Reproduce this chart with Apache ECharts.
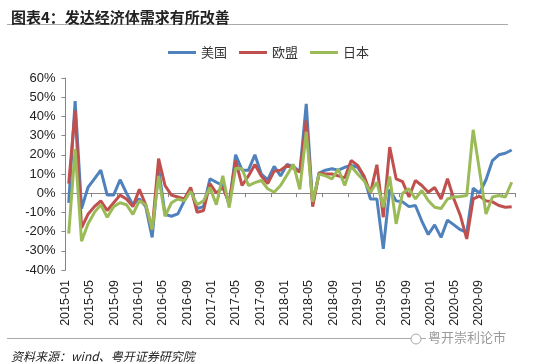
<!DOCTYPE html>
<html><head><meta charset="utf-8">
<script src="https://cdn.jsdelivr.net/npm/echarts@6/dist/echarts.min.js"></script>
<style>html,body{margin:0;padding:0;background:#fff}#c{width:550px;height:364px}</style>
</head><body><div id="c"></div>
<script>
const categories = [
'2015-01','2015-02','2015-03','2015-04','2015-05','2015-06','2015-07','2015-08','2015-09','2015-10','2015-11','2015-12',
'2016-01','2016-02','2016-03','2016-04','2016-05','2016-06','2016-07','2016-08','2016-09','2016-10','2016-11','2016-12',
'2017-01','2017-02','2017-03','2017-04','2017-05','2017-06','2017-07','2017-08','2017-09','2017-10','2017-11','2017-12',
'2018-01','2018-02','2018-03','2018-04','2018-05','2018-06','2018-07','2018-08','2018-09','2018-10','2018-11','2018-12',
'2019-01','2019-02','2019-03','2019-04','2019-05','2019-06','2019-07','2019-08','2019-09','2019-10','2019-11','2019-12',
'2020-01','2020-02','2020-03','2020-04','2020-05','2020-06','2020-07','2020-08','2020-09','2020-10'];
const tickLabels = ['2015-01','2015-05','2015-09','2016-01','2016-05','2016-09','2017-01','2017-05','2017-09',
'2018-01','2018-05','2018-09','2019-01','2019-05','2019-09','2020-01','2020-05','2020-09'];
const usa = [-5,48,-8,3,7.5,12,-1,-1,7,0,-6,-3,
 -7,-23,13,-11,-12,-10.8,-4,2,-8,-7,7.5,5.7,
 4,-6,20,12,12,20,10,7,14,9,15,14,
 11,46.5,-5.5,10.5,12,12.7,12,13.5,14.5,13.5,8.3,-3,
 -3,-29,2,-4,-4.5,-7,-6.4,-14.5,-21.5,-16.5,-23,-14,
 -16.5,-19,-20.4,2.6,0,7,17,20,20.8,22.5];
const eu = [5,43,-18,-11,-7,-4,-9,-5,-1,-3,-7,2,
 -6,-19,18,4,-1,-2,-3,3,-10,-9,5,0,
 3,-5,17,4,9,15,9,5,11.5,12,14.5,13,
 11,38,-7,10.5,10,10,9,8,17,14.5,9,0,
 14.8,-12.5,24,7.5,6,-2,6.6,4,0.5,3,-3,7.5,
 -3,-11.6,-23.8,-3,-1.5,-4,-4.5,-6.4,-7.3,-7];
const japan = [-21,23,-25,-16,-10,-6,-12.5,-7,-5,-6,-11,-4,
 -6,-19,9,-12,-5,-3,-4,1,-6,-4,3,-6,
 9,-7.5,13,12.7,4,5.5,6.6,2.3,0.5,4,9.5,15,
 2,32,-4.5,10,9,7.5,12.5,4,14,10,6.5,0.5,
 5.7,-7.3,8.7,-16,0,2.3,-3,1.4,-3.8,-7.3,-8,-3,
 -2,-1.7,-1.2,33,11.5,-10.8,-2,-1.2,-2,5.7];
const seriesNames = ['美国','欧盟','日本'];
const seriesColors = ['#4F81BD','#C0504D','#9BBB59'];
const seriesData = [usa, eu, japan];

const chart = echarts.init(document.getElementById('c'), null, {renderer:'canvas'});
const axisGray = '#868686';
const latin = '"Liberation Sans", Arial, sans-serif';
const cjk = '"Noto Sans CJK SC", sans-serif';
chart.setOption({
  animation: false,
  backgroundColor: '#fff',
  title: [
    {text: '图表4：发达经济体需求有所改善', left: 6, top: 5,
     textStyle: {fontFamily: cjk, fontSize: 15, fontWeight: 'bold', color: '#222'}},
    {text: '资料来源：wind、粤开证券研究院', left: 6, top: 345,
     textStyle: {fontFamily: cjk, fontSize: 12, fontWeight: 'normal', fontStyle: 'italic', color: '#222'}}
  ],
  legend: {
    data: seriesNames, left: 163, top: 41, icon: 'rect', itemWidth: 28, itemHeight: 3, itemGap: 12,
    textStyle: {fontFamily: cjk, fontSize: 13, color: '#333'}
  },
  graphic: [
    {type: 'line', shape: {x1: 7, y1: 24.5, x2: 508, y2: 24.5}, style: {stroke: '#aaa', lineWidth: 1}},
    {type: 'line', shape: {x1: 7, y1: 338.5, x2: 508, y2: 338.5}, style: {stroke: '#aaa', lineWidth: 1}},
    {type: 'text', left: 426, top: 331, style: {text: '粤开崇利论市', fill: '#9a9a9a', font: '13px "Noto Sans CJK SC"', backgroundColor: '#fff', padding: [0, 2]}},
    {type: 'circle', shape: {cx: 416, cy: 339, r: 5}, style: {fill: '#fff', stroke: '#aaa', lineWidth: 1}}
  ],
  grid: [
    {left: 65.5, top: 78, width: 449.4, height: 192},
    {left: 65.7, top: 78, width: 413.3, height: 192}
  ],
  xAxis: [
    {type: 'category', gridIndex: 0, data: categories, boundaryGap: true,
     axisLine: {onZero: true, lineStyle: {color: axisGray, width: 1}},
     axisTick: {show: true, interval: 3, length: 4, inside: false, lineStyle: {color: axisGray}},
     axisLabel: {show: false}},
    {type: 'category', gridIndex: 1, data: tickLabels, boundaryGap: false, position: 'bottom',
     axisLine: {show: false}, axisTick: {show: false},
     axisLabel: {interval: 0, rotate: 90, margin: 10, fontFamily: latin, fontSize: 12.5, color: '#222'}}
  ],
  yAxis: [
    {type: 'value', gridIndex: 0, min: -40, max: 60, interval: 10,
     axisLine: {show: true, lineStyle: {color: axisGray}},
     axisTick: {show: true, length: 4, lineStyle: {color: axisGray}},
     splitLine: {show: false},
     axisLabel: {formatter: '{value}%', margin: 10, fontFamily: latin, fontSize: 13, color: '#222'}},
    {type: 'value', gridIndex: 1, min: 0, max: 1, show: false}
  ],
  series: seriesNames.map((n, k) => ({
    name: n, type: 'line', xAxisIndex: 0, yAxisIndex: 0, data: seriesData[k],
    showSymbol: false, symbol: 'none', lineStyle: {width: 3, color: seriesColors[k]},
    itemStyle: {color: seriesColors[k]}
  }))
});
</script></body></html>
